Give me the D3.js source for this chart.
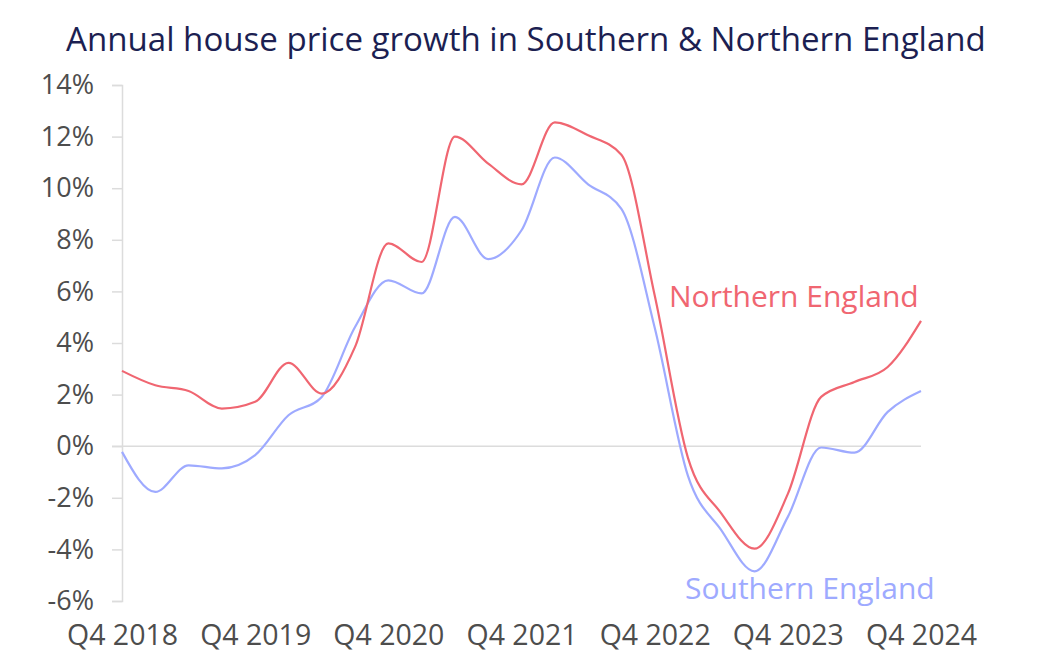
<!DOCTYPE html>
<html>
<head>
<meta charset="utf-8">
<script src="https://cdn.jsdelivr.net/npm/d3@7"></script>
<style>
  html, body { margin: 0; padding: 0; background: #ffffff; }
  svg { display: block; }
</style>
</head>
<body>
<svg id="chart" width="1050" height="670"></svg>
<script>
// ---- Data ----
const quarters = [
  "Q4 2018", "Q1 2019", "Q2 2019", "Q3 2019",
  "Q4 2019", "Q1 2020", "Q2 2020", "Q3 2020",
  "Q4 2020", "Q1 2021", "Q2 2021", "Q3 2021",
  "Q4 2021", "Q1 2022", "Q2 2022", "Q3 2022",
  "Q4 2022", "Q1 2023", "Q2 2023", "Q3 2023",
  "Q4 2023", "Q1 2024", "Q2 2024", "Q3 2024",
  "Q4 2024"
];
const northernEngland = [
  2.92, 2.36, 2.14, 1.46, 1.72, 3.23, 2.04, 3.85,
  7.86, 7.14, 12.0, 10.95, 10.15, 12.55, 12.05, 11.3,
  5.85, -0.45, -2.6, -3.97, -1.85, 1.91, 2.49, 3.07,
  4.86
];
const southernEngland = [
  -0.22, -1.77, -0.74, -0.86, -0.35, 1.2, 1.91, 4.62,
  6.43, 5.92, 8.89, 7.25, 8.37, 11.19, 10.15, 9.2,
  4.6, -1.15, -3.25, -4.85, -2.74, -0.05, -0.25, 1.33,
  2.14
];
const xTickLabels = ["Q4 2018", "Q4 2019", "Q4 2020", "Q4 2021", "Q4 2022", "Q4 2023", "Q4 2024"];
const yTickValues = [-6, -4, -2, 0, 2, 4, 6, 8, 10, 12, 14];
const titleText = "Annual house price growth in Southern & Northern England";
const seriesNames = ["Northern England", "Southern England"];

// ---- Layout ----
const svg = d3.select("#chart");
const mLeft = 122, mRight = 921, mTop = 85, mBottom = 601;
const red = "#f06671", blue = "#9eaaff";
const fontLabel = "'Open Sans', 'Noto Sans', sans-serif";

const x = d3.scalePoint().domain(quarters).range([mLeft, mRight]);
const y = d3.scaleLinear().domain([-6, 14]).range([mBottom, mTop]);

// Title
svg.append("text")
  .attr("x", 66).attr("y", 51)
  .attr("font-family", fontLabel)
  .attr("font-size", 33.1)
  .attr("font-weight", 500)
  .attr("fill", "#1c1f52")
  .text(titleText);

// Y axis
const yAxis = d3.axisLeft(y)
  .tickValues(yTickValues)
  .tickSize(10)
  .tickPadding(18)
  .tickFormat(d => d + "%");
const gy = svg.append("g").attr("transform", `translate(${mLeft},0)`).call(yAxis);
gy.select(".domain").attr("stroke", "#dcdcdc").attr("stroke-width", 1.5);
gy.selectAll(".tick line").attr("stroke", "#dcdcdc").attr("stroke-width", 1.5);
gy.selectAll(".tick text")
  .attr("font-family", fontLabel)
  .attr("font-size", 27)
  .attr("fill", "#4d4d4d");

// Zero line
svg.append("line")
  .attr("x1", mLeft - 10).attr("x2", mRight)
  .attr("y1", y(0)).attr("y2", y(0))
  .attr("stroke", "#dcdcdc").attr("stroke-width", 1.5);

// X axis (labels only)
const xAxis = d3.axisBottom(x)
  .tickValues(xTickLabels)
  .tickSize(0)
  .tickPadding(0);
const gx = svg.append("g").attr("transform", `translate(0,${mBottom + 23})`).call(xAxis);
gx.select(".domain").remove();
gx.selectAll(".tick text")
  .attr("font-family", fontLabel)
  .attr("font-size", 28.5)
  .attr("fill", "#4d4d4d")
  .attr("dy", "0.75em");

// Lines
const line = d3.line()
  .x((d, i) => x(quarters[i]))
  .y(d => y(d))
  .curve(d3.curveMonotoneX);

svg.append("path")
  .datum(southernEngland)
  .attr("fill", "none")
  .attr("stroke", blue)
  .attr("stroke-width", 2.2)
  .attr("d", line);

svg.append("path")
  .datum(northernEngland)
  .attr("fill", "none")
  .attr("stroke", red)
  .attr("stroke-width", 2.2)
  .attr("d", line);

// Series labels
svg.append("text")
  .attr("x", 669).attr("y", 307)
  .attr("font-family", fontLabel)
  .attr("font-size", 30)
  .attr("fill", red)
  .text(seriesNames[0]);

svg.append("text")
  .attr("x", 685).attr("y", 599)
  .attr("font-family", fontLabel)
  .attr("font-size", 30)
  .attr("fill", blue)
  .text(seriesNames[1]);
</script>
</body>
</html>
